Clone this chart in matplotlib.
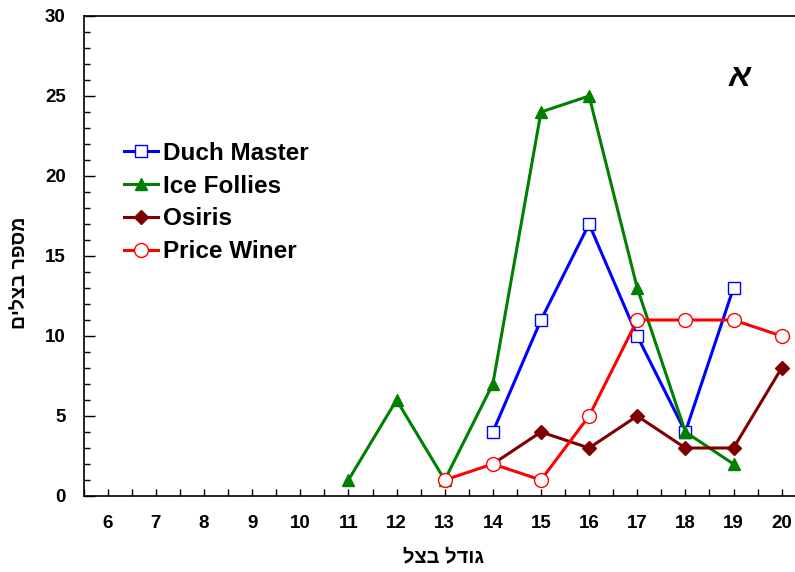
import matplotlib
matplotlib.use("Agg")
import matplotlib.pyplot as plt
from matplotlib.ticker import MultipleLocator

plt.rcParams["font.family"] = ["Liberation Sans", "DejaVu Sans"]
plt.rcParams["font.weight"] = "bold"

# data
dm_x = [14, 15, 16, 17, 18, 19]
dm_y = [4, 11, 17, 10, 4, 13]
ice_x = [11, 12, 13, 14, 15, 16, 17, 18, 19]
ice_y = [1, 6, 1, 7, 24, 25, 13, 4, 2]
osi_x = [14, 15, 16, 17, 18, 19, 20]
osi_y = [2, 4, 3, 5, 3, 3, 8]
pw_x = [13, 14, 15, 16, 17, 18, 19, 20]
pw_y = [1, 2, 1, 5, 11, 11, 11, 10]

x_ticks = list(range(6, 21))
# hebrew strings stored in visual (reversed) order since matplotlib has no bidi
x_label = "גודל בצל"[::-1]
y_label = "מספר בצלים"[::-1]

fig = plt.figure(figsize=(7.95, 5.72), dpi=100)
ax = fig.add_axes([83.7 / 795, 1 - 496 / 572, 722 / 795, 480 / 572])

ax.plot(dm_x, dm_y, color="blue", lw=2.2, marker="s", ms=9,
        mfc="white", mec="blue", mew=1.0, label="Duch Master")
ax.plot(ice_x, ice_y, color="green", lw=2.2, marker="^", ms=9,
        mfc="green", mec="green", label="Ice Follies")
ax.plot(osi_x, osi_y, color="#800000", lw=2.2, marker="D", ms=7,
        mfc="#800000", mec="#800000", label="Osiris")
ax.plot(pw_x, pw_y, color="red", lw=2.2, marker="o", ms=10,
        mfc="white", mec="red", mew=1.0, label="Price Winer")

ax.set_xlim(5.5, 20.5)
ax.set_ylim(0, 30)
ax.set_xticks(x_ticks)
ax.xaxis.set_minor_locator(MultipleLocator(0.5))
ax.yaxis.set_major_locator(MultipleLocator(5))
ax.yaxis.set_minor_locator(MultipleLocator(1))

ax.spines["right"].set_visible(False)
for s in ["left", "bottom", "top"]:
    ax.spines[s].set_linewidth(1.2)

ax.tick_params(axis="x", which="both", direction="in", length=5, width=1,
               pad=14, labelsize=13.5)
ax.tick_params(axis="y", which="major", direction="in", length=8, width=1,
               pad=13, labelsize=13.5)
ax.tick_params(axis="y", which="minor", direction="in", length=4, width=1)
for t in ax.get_xticklabels() + ax.get_yticklabels():
    t.set_fontweight("bold")

xl = ax.set_xlabel(x_label, fontsize=14.5, fontweight="bold")
xl.set_va("center")
ax.xaxis.set_label_coords(0.4977, -0.127)
yl = ax.set_ylabel(y_label, fontsize=14, fontweight="bold")
yl.set_va("center")
ax.yaxis.set_label_coords(-0.087, 0.465)

ax.text(740, 572 - 78, "א", transform=None, fontsize=23, fontstyle="italic",
        ha="center", va="center")

leg = ax.legend(loc="upper left", bbox_to_anchor=(124 / 795, 1 - 142 / 572),
                bbox_transform=fig.transFigure, frameon=False,
                prop={"size": 17.5, "weight": "bold"}, handlelength=1.4,
                handletextpad=0.2, labelspacing=0.4, borderaxespad=0,
                borderpad=0)

fig.savefig("out.png", dpi=100)
